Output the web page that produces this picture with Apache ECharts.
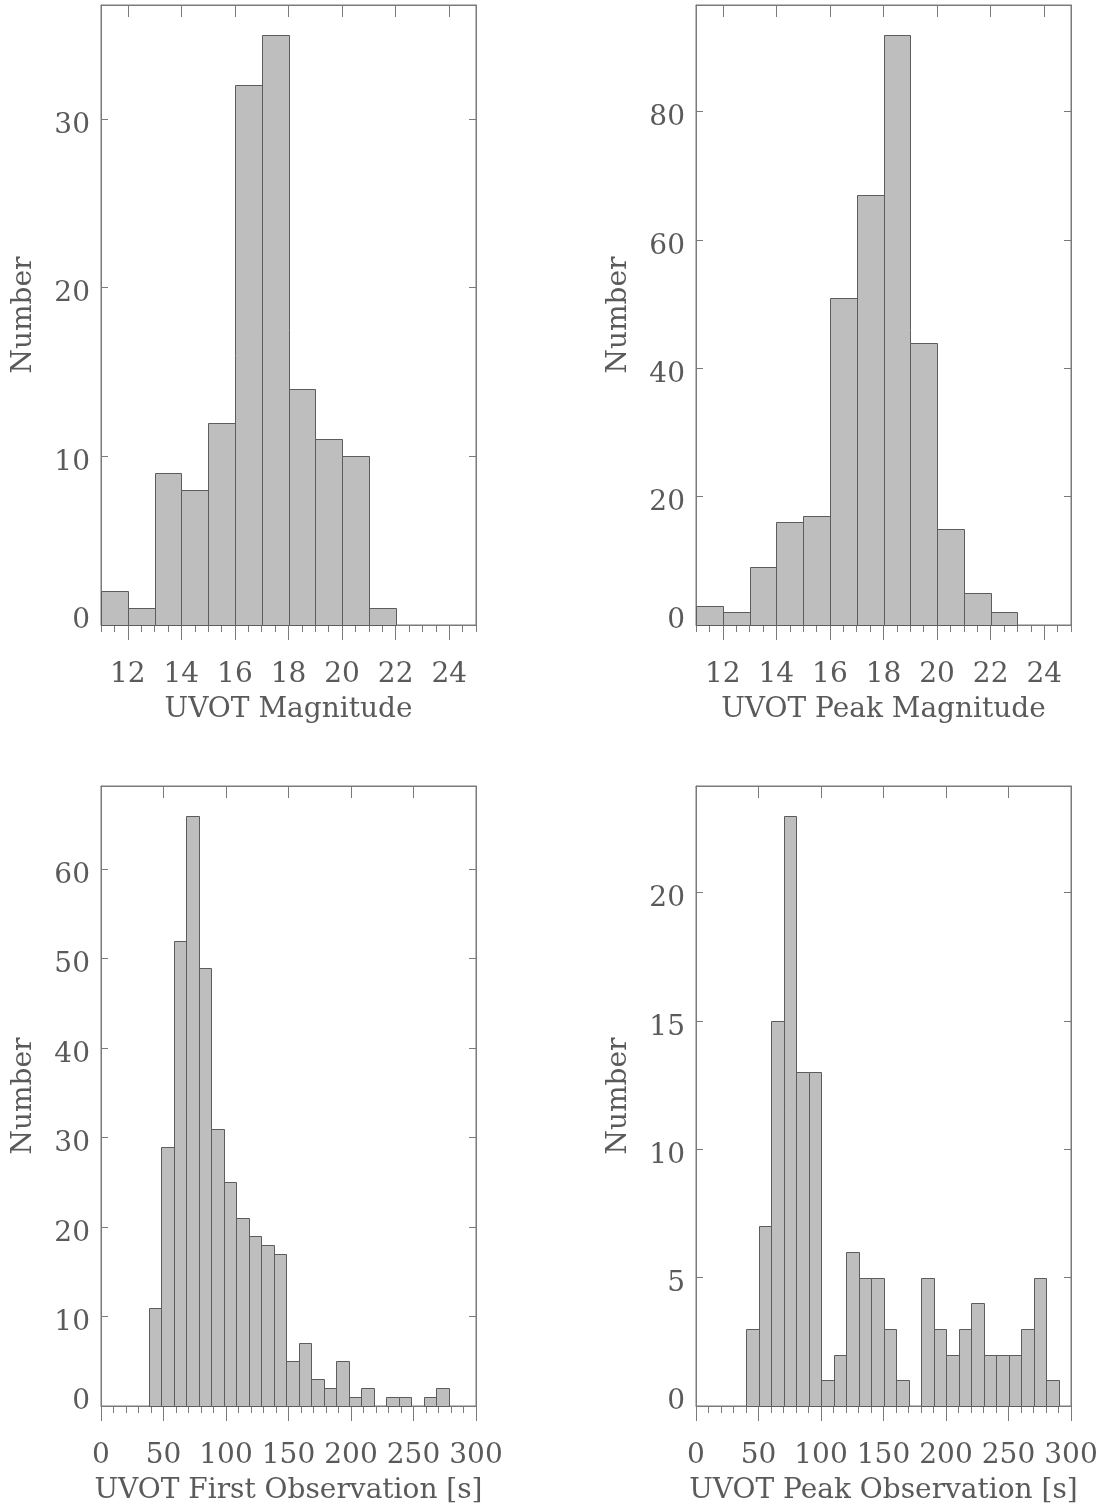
<!DOCTYPE html>
<html>
<head>
<meta charset="utf-8">
<script src="https://cdn.jsdelivr.net/npm/echarts@6/dist/echarts.min.js"></script>
<style>
  html, body { margin: 0; padding: 0; background: #fff; }
  #chart { width: 1103px; height: 1508px; }
</style>
</head>
<body>
<div id="chart"></div>
<script>
// Histogram counts, one value per bin
const magStart = 11, magBin = 1;
const magCounts = [2, 1, 9, 8, 12, 32, 35, 14, 11, 10, 1];

const peakMagStart = 11, peakMagBin = 1;
const peakMagCounts = [3, 2, 9, 16, 17, 51, 67, 92, 44, 15, 5, 2];

const firstObsStart = 38, firstObsBin = 10;
const firstObsCounts = [11, 29, 52, 66, 49, 31, 25, 21, 19, 18, 17, 5, 7, 3, 2, 5, 1, 2, 0, 1, 1, 0, 1, 2];

const peakObsStart = 40, peakObsBin = 10;
const peakObsCounts = [3, 7, 15, 23, 13, 13, 1, 2, 6, 5, 5, 3, 1, 0, 5, 3, 2, 3, 4, 2, 2, 2, 3, 5, 1];

// Axis tick labels
const magTicks = [12, 14, 16, 18, 20, 22, 24];
const timeTicks = [0, 50, 100, 150, 200, 250, 300];
const yTicks1 = [0, 10, 20, 30];
const yTicks2 = [0, 20, 40, 60, 80];
const yTicks3 = [0, 10, 20, 30, 40, 50, 60];
const yTicks4 = [0, 5, 10, 15, 20];

const xTitles = ['UVOT Magnitude', 'UVOT Peak Magnitude', 'UVOT First Observation [s]', 'UVOT Peak Observation [s]'];
const yTitle = 'Number';

const FONT = 'DejaVu Serif';
const TEXT = '#5a5a5a';
const AXIS = '#7a7a7a';
const FS = 28;

function binsOf(start, width, counts) {
  return counts.map((n, i) => [start + i * width, start + (i + 1) * width, n]);
}

const panels = [
  { data: binsOf(magStart, magBin, magCounts), xMin: 11, xMax: 25, minorStep: 0.5, xTicks: magTicks,
    yTicks: yTicks1, yMax: Math.max(...magCounts) * 1.05, grid: { left: 101, top: 5 } },
  { data: binsOf(peakMagStart, peakMagBin, peakMagCounts), xMin: 11, xMax: 25, minorStep: 0.5, xTicks: magTicks,
    yTicks: yTicks2, yMax: Math.max(...peakMagCounts) * 1.05, grid: { left: 696, top: 5 } },
  { data: binsOf(firstObsStart, firstObsBin, firstObsCounts), xMin: 0, xMax: 300, minorStep: 10, xTicks: timeTicks,
    yTicks: yTicks3, yMax: Math.max(...firstObsCounts) * 1.05, grid: { left: 101, top: 786 } },
  { data: binsOf(peakObsStart, peakObsBin, peakObsCounts), xMin: 0, xMax: 300, minorStep: 10, xTicks: timeTicks,
    yTicks: yTicks4, yMax: Math.max(...peakObsCounts) * 1.05, grid: { left: 696, top: 786 } }
];

const grid = [], xAxis = [], yAxis = [], series = [];
const lineStyle = { color: AXIS, width: 1 };

panels.forEach((p, i) => {
  grid.push({ left: p.grid.left, top: p.grid.top, width: 375, height: 620,
    show: true, borderColor: AXIS, borderWidth: 1, backgroundColor: 'transparent' });

  // bottom axis: major ticks, labels and title
  xAxis.push({
    type: 'value', gridIndex: i, position: 'bottom', min: p.xMin, max: p.xMax,
    axisLine: { show: true, onZero: false, lineStyle },
    axisTick: { show: true, inside: false, length: 15, lineStyle, customValues: p.xTicks },
    axisLabel: { show: true, customValues: p.xTicks, margin: 36, fontFamily: FONT, fontSize: FS, color: TEXT },
    splitLine: { show: false },
    name: xTitles[i], nameLocation: 'middle', nameGap: 71,
    nameTextStyle: { fontFamily: FONT, fontSize: FS, color: TEXT }
  });
  // bottom axis: minor ticks
  xAxis.push({
    type: 'value', gridIndex: i, position: 'bottom', min: p.xMin, max: p.xMax, interval: p.minorStep,
    axisLine: { show: false, onZero: false },
    axisTick: { show: true, inside: false, length: 7, lineStyle },
    axisLabel: { show: false }, splitLine: { show: false }
  });
  // top axis: inward major ticks
  xAxis.push({
    type: 'value', gridIndex: i, position: 'top', min: p.xMin, max: p.xMax,
    axisLine: { show: true, onZero: false, lineStyle },
    axisTick: { show: true, inside: true, length: 12, lineStyle, customValues: p.xTicks },
    axisLabel: { show: false }, splitLine: { show: false }
  });

  // the zero label sits just above the bottom axis
  const fmt = v => (v === 0 ? '{z|' + v + '}' : '{n|' + v + '}');
  yAxis.push({
    type: 'value', gridIndex: i, position: 'left', min: 0, max: p.yMax,
    axisLine: { show: true, onZero: false, lineStyle },
    axisTick: { show: true, inside: true, length: 7, lineStyle, customValues: p.yTicks },
    axisLabel: { show: true, customValues: p.yTicks, margin: 11, formatter: fmt,
      fontFamily: FONT, fontSize: FS, color: TEXT,
      rich: {
        n: { fontFamily: FONT, fontSize: FS, color: TEXT, padding: [13, 0, 0, 0] },
        z: { fontFamily: FONT, fontSize: FS, color: TEXT, padding: [0, 0, 8, 0] }
      } },
    splitLine: { show: false },
    name: yTitle, nameLocation: 'middle', nameGap: 63,
    nameTextStyle: { fontFamily: FONT, fontSize: FS, color: TEXT }
  });
  yAxis.push({
    type: 'value', gridIndex: i, position: 'right', min: 0, max: p.yMax,
    axisLine: { show: true, onZero: false, lineStyle },
    axisTick: { show: true, inside: true, length: 7, lineStyle, customValues: p.yTicks },
    axisLabel: { show: false }, splitLine: { show: false }
  });

  series.push({
    type: 'custom', xAxisIndex: i * 3, yAxisIndex: i * 2,
    data: p.data, encode: { x: [0, 1], y: 2 }, silent: true,
    renderItem: (params, api) => {
      const n = api.value(2);
      if (!n) return null;
      const a = api.coord([api.value(0), 0]);
      const b = api.coord([api.value(1), n]);
      return {
        type: 'rect',
        shape: { x: Math.round(a[0]) + 0.5, y: Math.round(b[1]) + 0.5,
                 width: Math.round(b[0]) - Math.round(a[0]), height: Math.round(a[1]) - Math.round(b[1]) },
        style: { fill: '#bebebe', stroke: '#5c5c5c', lineWidth: 1 }
      };
    }
  });
});

const chart = echarts.init(document.getElementById('chart'), null, { renderer: 'canvas' });
chart.setOption({ animation: false, backgroundColor: '#ffffff', grid, xAxis, yAxis, series });
</script>
</body>
</html>
